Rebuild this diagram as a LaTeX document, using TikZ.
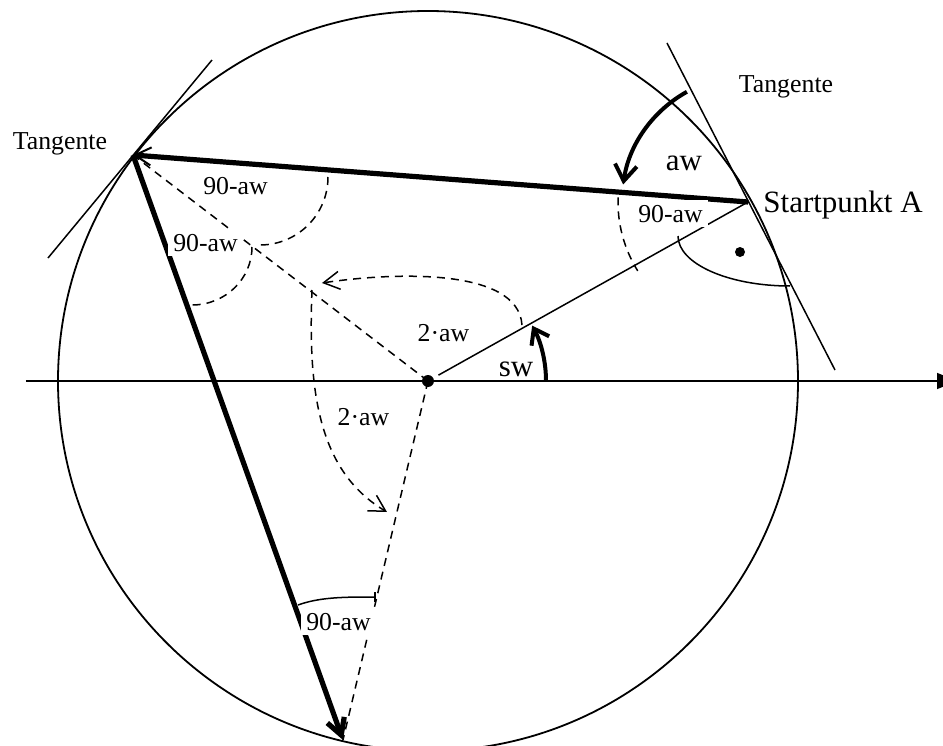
\documentclass[tikz,border=0pt]{standalone}
\usepackage{fontspec}
\setmainfont{Liberation Serif}
\usetikzlibrary{arrows.meta}
\begin{document}
\begin{tikzpicture}[x=0.5pt,y=0.5pt,
  circ/.style={line width=0.9pt},
  axisline/.style={line width=0.8pt,-{Triangle[length=10pt,width=8pt]}},
  fineline/.style={line width=0.75pt},
  dashline/.style={line width=0.75pt,dash pattern=on 4pt off 3pt},
  chord/.style={line width=2.6pt},
  boldarc/.style={line width=2pt},
  lbl/.style={font=\fontsize{12.9}{14}\selectfont,anchor=base,inner sep=2.5pt},
  biglbl/.style={font=\fontsize{15.5}{17}\selectfont,anchor=base,inner sep=2pt}]
\useasboundingbox (-428,-364) rectangle (515,381);
\coordinate (O) at (0,0);
\coordinate (A) at (320,179);
\coordinate (B) at (-295,226);
\coordinate (C) at (-85,-359);
\coordinate (AxL) at (-402,0);
\coordinate (AxR) at (529,0);
\coordinate (TA1) at (239,338);
\coordinate (TA2) at (407,11);
\coordinate (TB1) at (-380,123);
\coordinate (TB2) at (-216,321);
% circle and axis
\draw[circ] (O) circle[radius=370];
\draw[axisline] (AxL) -- (AxR);
% tangents
\draw[fineline] (TA1) -- (TA2);
\draw[fineline] (TB1) -- (TB2);
% radii
\draw[fineline, shorten <=6pt] (O) -- (A);
\draw[dashline] (O) -- (B);
\draw[dashline] (O) -- (C);
% chords
\draw[chord, -{Straight Barb[length=8pt,width=9pt,line width=1pt]}] (A) -- (B);
\draw[chord, -{Straight Barb[length=8pt,width=9pt]}] (B) -- (C);
% angle aw
\draw[boldarc, -{Straight Barb[length=8pt,width=11pt]}] (A) ++(119:126) arc[start angle=119,end angle=172,radius=126];
% angle 90-aw at A
\draw[dashline] (A) ++(178:130) arc[start angle=178,end angle=212,radius=130];
% right angle at A
\draw[fineline] (A) ++(-70,-34) arc[start angle=180,end angle=270,x radius=112,y radius=50];
\fill (A) ++(-8,-50) circle[radius=5];
% angles at B
\draw[dashline] (B) ++(195,-22) arc[start angle=0,end angle=-90,radius=68];
\draw[dashline] (B) ++(119,-92) arc[start angle=0,end angle=-90,x radius=60,y radius=58];
% angle at C
\draw[fineline, -{Bar[width=5pt]}] (-130,-224) .. controls (-108,-216) and (-83,-216) .. (-52,-216);
% sw
\draw[boldarc, -{Straight Barb[length=7pt,width=10pt]}] (O) ++(118,0) arc[start angle=0,end angle=28,radius=118];
% 2aw arcs
\draw[dashline, -{Straight Barb[length=8pt,width=9pt]}] (94,56) .. controls (90,115) and (-40,108) .. (-106,98);
\draw[dashline, -{Straight Barb[length=8pt,width=9pt]}] (-116,91) .. controls (-120,-10) and (-110,-90) .. (-41,-131);
% center dot
\fill (O) circle[radius=6];
% labels
\node[lbl] (tl) at (-368,231) {Tangente};
\node[lbl] (tr) at (358,288) {Tangente};
\node[biglbl] (law) at (256,211) {aw};
\node[biglbl, anchor=base west, inner sep=0pt] (lsa) at (335,169) {Startpunkt A};
\node[lbl, fill=white] (la) at (242.5,159) {90-aw};
\node[lbl, fill=white] (lb1) at (-192.5,186) {90-aw};
\node[lbl, fill=white] (lb2) at (-222.5,130) {90-aw};
\node[lbl, fill=white] (lc) at (-89.5,-249) {90-aw};
\node[lbl] (l2a) at (15.5,40) {2·aw};
\node[lbl] (l2b) at (-64.5,-44) {2·aw};
\node[biglbl] (lsw) at (88,5) {sw};
\end{tikzpicture}
\end{document}
